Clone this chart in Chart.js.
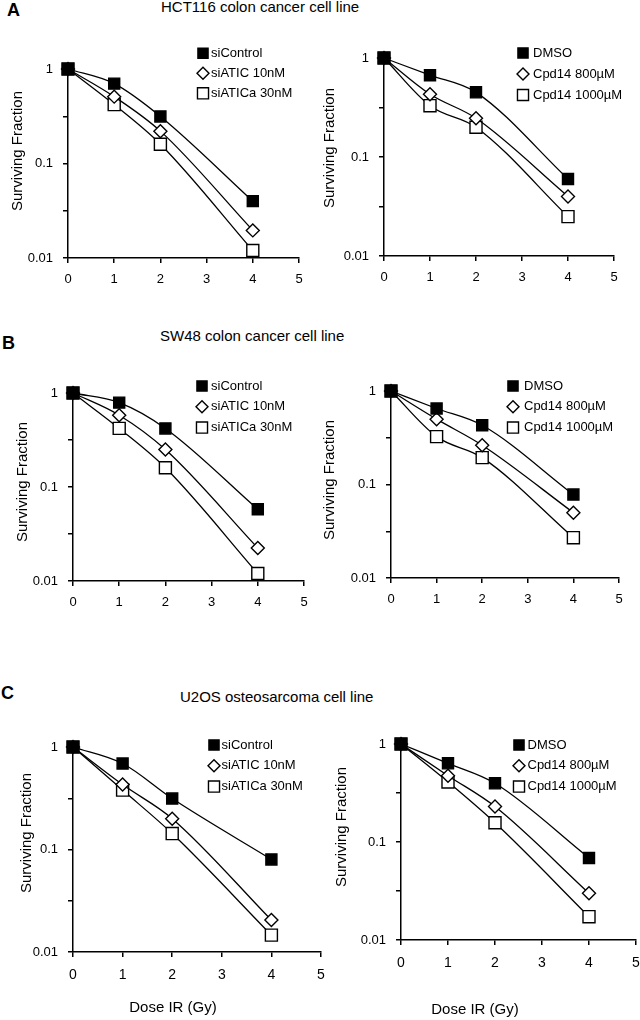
<!DOCTYPE html>
<html>
<head>
<meta charset="utf-8">
<script src="https://cdn.jsdelivr.net/npm/chart.js@4/dist/chart.umd.min.js"></script>
<style>
  body { margin: 0; width: 640px; height: 1020px; background: #fff; position: relative; overflow: hidden; }
  canvas { position: absolute; }
  .txt { position: absolute; font-family: "Liberation Sans", Arial, sans-serif; color: #000; white-space: nowrap; }
  .letter { font-weight: bold; font-size: 18px; line-height: 20px; }
  .title { font-size: 15px; line-height: 18px; }
</style>
</head>
<body>
<div class="txt letter" style="left:7px;top:0px">A</div>
<div class="txt title" style="left:161px;top:-2px">HCT116 colon cancer cell line</div>
<div class="txt letter" style="left:2px;top:333px">B</div>
<div class="txt title" style="left:160px;top:327px">SW48 colon cancer cell line</div>
<div class="txt letter" style="left:1px;top:683px">C</div>
<div class="txt title" style="left:180px;top:688px">U2OS osteosarcoma cell line</div>

<script>
// dose (Gy)
const doses = [0, 1, 2, 4];

// HCT116
const hctSiControl = [1.0, 0.70, 0.315, 0.040];
const hctSiATIC10 = [1.0, 0.51, 0.22, 0.0196];
const hctSiATICa30 = [1.0, 0.42, 0.16, 0.012];
const hctDMSO = [1.0, 0.67, 0.45, 0.060];
const hctCpd800 = [1.0, 0.43, 0.246, 0.040];
const hctCpd1000 = [1.0, 0.33, 0.20, 0.025];

// SW48
const swSiControl = [1.0, 0.79, 0.42, 0.058];
const swSiATIC10 = [1.0, 0.58, 0.25, 0.0224];
const swSiATICa30 = [1.0, 0.42, 0.16, 0.012];
const swDMSO = [1.0, 0.65, 0.43, 0.078];
const swCpd800 = [1.0, 0.50, 0.263, 0.050];
const swCpd1000 = [1.0, 0.325, 0.194, 0.027];

// U2OS
const u2SiControl = [1.0, 0.69, 0.314, 0.080];
const u2SiATIC10 = [1.0, 0.43, 0.20, 0.0205];
const u2SiATICa30 = [1.0, 0.38, 0.143, 0.0146];
const u2DMSO = [1.0, 0.635, 0.397, 0.0687];
const u2Cpd800 = [1.0, 0.475, 0.23, 0.030];
const u2Cpd1000 = [1.0, 0.41, 0.157, 0.0173];

const siLabels = ['siControl', 'siATIC 10nM', 'siATICa 30nM'];
const cpdLabels = ['DMSO', 'Cpd14 800\u00b5M', 'Cpd14 1000\u00b5M'];

const xTickValues = [0, 1, 2, 3, 4, 5];
const xTickLabels = ['0', '1', '2', '3', '4', '5'];
const yTickValues = [0.01, 0.0316, 0.1, 0.316, 1];
const yTickLabels = ['0.01', '', '0.1', '', '1'];

const yAxisTitle = 'Surviving Fraction';
const xAxisTitle = 'Dose IR (Gy)';

const FONT = '"Liberation Sans", Arial, sans-serif';
Chart.defaults.font.family = FONT;
Chart.defaults.font.size = 13;
Chart.defaults.color = '#000';

// marker looks: filled square, open diamond, open square
const markers = [
  { pointStyle: 'rect', radius: 7.8, fill: '#000' },
  { pointStyle: 'rectRot', radius: 6.5, fill: '#fff' },
  { pointStyle: 'rect', radius: 8.5, fill: '#fff' }
];

function drawMarker(ctx, style, x, y, r, fill) {
  ctx.beginPath();
  if (style === 'rect') {
    const s = r * Math.SQRT1_2;
    ctx.rect(x - s, y - s, 2 * s, 2 * s);
  } else {
    ctx.moveTo(x - r, y);
    ctx.lineTo(x, y - r);
    ctx.lineTo(x + r, y);
    ctx.lineTo(x, y + r);
    ctx.closePath();
  }
  ctx.fillStyle = fill;
  ctx.fill();
  ctx.lineWidth = 1.4;
  ctx.strokeStyle = '#000';
  ctx.stroke();
}

// legend inside plot + axis titles, placed relative to the chart area
const panelDecor = {
  id: 'panelDecor',
  afterDraw(chart, args, opts) {
    const { ctx, chartArea: a } = chart;
    ctx.save();
    ctx.textBaseline = 'middle';
    chart.data.datasets.forEach((ds, i) => {
      const x = a.left + opts.legend[0];
      const y = a.top + opts.legend[1] + i * opts.legend[2];
      drawMarker(ctx, ds.pointStyle, x, y, ds.pointRadius * 0.92, ds.pointBackgroundColor);
      ctx.fillStyle = '#000';
      ctx.textAlign = 'left';
      ctx.font = '13px ' + FONT;
      ctx.fillText(ds.label, x + opts.legend[3], y);
    });
    ctx.font = '15px ' + FONT;
    ctx.fillStyle = '#000';
    ctx.textAlign = 'center';
    ctx.save();
    ctx.translate(a.left + opts.yTitle[0], a.top + opts.yTitle[1]);
    ctx.rotate(-Math.PI / 2);
    ctx.fillText(yAxisTitle, 0, 0);
    ctx.restore();
    if (opts.xTitle) {
      ctx.fillText(xAxisTitle, a.left + opts.xTitle[0], a.bottom + opts.xTitle[1]);
    }
    ctx.restore();
  }
};

const PAD_L = 70, PAD_T = 30, PAD_R = 20, PAD_B = 80;

function makePanel(area, labels, series, decor, xPad, xFont) {
  const c = document.createElement('canvas');
  const w = area.r - area.l + PAD_L + PAD_R;
  const h = area.b - area.t + PAD_T + PAD_B;
  c.width = w;
  c.height = h;
  c.style.left = (area.l - PAD_L) + 'px';
  c.style.top = (area.t - PAD_T) + 'px';
  document.body.appendChild(c);

  const axisGrid = { drawOnChartArea: false, drawTicks: true, tickLength: 5, color: '#000', lineWidth: 1.5 };
  const axisBorder = { color: '#000', width: 1.5 };

  new Chart(c.getContext('2d'), {
    type: 'line',
    data: {
      datasets: series.map((vals, i) => ({
        label: labels[i],
        data: doses.map((d, j) => ({ x: d, y: vals[j] })),
        borderColor: '#000',
        borderWidth: 1.3,
        cubicInterpolationMode: 'monotone',
        pointStyle: markers[i].pointStyle,
        pointRadius: markers[i].radius,
        pointBackgroundColor: markers[i].fill,
        pointBorderColor: '#000',
        pointBorderWidth: 1.4,
        clip: false
      }))
    },
    options: {
      responsive: false,
      animation: false,
      devicePixelRatio: 1,
      events: [],
      layout: { autoPadding: false, padding: { left: 0, top: PAD_T, right: PAD_R, bottom: 0 } },
      plugins: { legend: { display: false }, tooltip: { enabled: false }, panelDecor: decor },
      scales: {
        x: {
          type: 'linear', min: 0, max: 5,
          afterBuildTicks: s => { s.ticks = xTickValues.map(v => ({ value: v })); },
          ticks: { callback: (v, i) => xTickLabels[i], autoSkip: false, maxRotation: 0, padding: xPad, font: { size: xFont } },
          grid: axisGrid,
          border: axisBorder,
          afterFit: s => { s.height = PAD_B; s.paddingLeft = 0; s.paddingRight = 0; }
        },
        y: {
          type: 'logarithmic', min: 0.01, max: 1,
          afterBuildTicks: s => { s.ticks = yTickValues.map(v => ({ value: v })); },
          ticks: { callback: (v, i) => yTickLabels[i], autoSkip: false, padding: 10, font: { size: 13 } },
          grid: axisGrid,
          border: axisBorder,
          afterFit: s => { s.width = PAD_L; s.paddingTop = 0; s.paddingBottom = 0; }
        }
      }
    },
    plugins: [panelDecor]
  });
}

makePanel({ l: 68, t: 69, r: 299, b: 258 }, siLabels, [hctSiControl, hctSiATIC10, hctSiATICa30],
  { legend: [135, -15.7, 20, 8], yTitle: [-50, 82] }, 9, 13);
makePanel({ l: 384, t: 58, r: 614, b: 256 }, cpdLabels, [hctDMSO, hctCpd800, hctCpd1000],
  { legend: [139, -5, 21, 10], yTitle: [-54, 90] }, 9, 13);
makePanel({ l: 73, t: 393, r: 304, b: 581 }, siLabels, [swSiControl, swSiATIC10, swSiATICa30],
  { legend: [129, -7, 20.8, 9], yTitle: [-50, 89] }, 9, 13);
makePanel({ l: 391, t: 391, r: 619, b: 578 }, cpdLabels, [swDMSO, swCpd800, swCpd1000],
  { legend: [122, -5, 20.8, 11], yTitle: [-61, 89] }, 9, 13);
makePanel({ l: 73, t: 747, r: 321, b: 952 }, siLabels, [u2SiControl, u2SiATIC10, u2SiATICa30],
  { legend: [141, -2, 20.8, 7.5], yTitle: [-46, 86], xTitle: [100, 56] }, 10, 14);
makePanel({ l: 401, t: 744, r: 636, b: 940 }, cpdLabels, [u2DMSO, u2Cpd800, u2Cpd1000],
  { legend: [118, 1, 20.8, 8.5], yTitle: [-59, 83], xTitle: [74, 70] }, 10, 14);
</script>
</body>
</html>
